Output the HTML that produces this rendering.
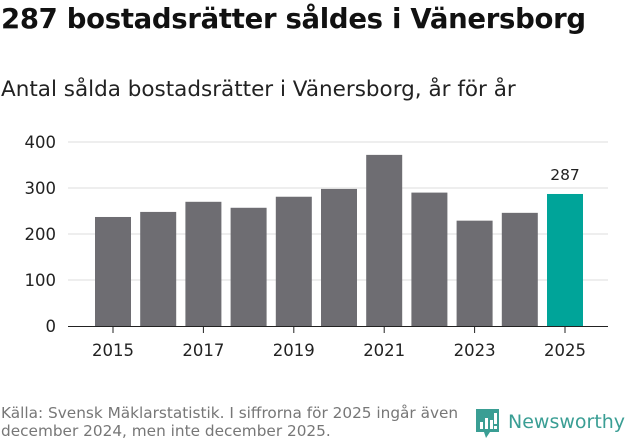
<!DOCTYPE html>
<html><head><meta charset="utf-8"><style>
body{margin:0;width:631px;height:439px;background:#fff;font-family:"DejaVu Sans","Liberation Sans",sans-serif;overflow:hidden;position:relative}
#title{position:absolute;left:1px;top:3px;font-size:27.5px;font-weight:bold;color:#111;margin:0;letter-spacing:-0.3px;white-space:nowrap}
#sub{position:absolute;left:1px;top:77px;font-size:21.5px;color:#222;white-space:nowrap}
#src{position:absolute;left:1px;top:404px;font-size:15.3px;color:#777;line-height:18px;white-space:nowrap}
#logo{position:absolute;left:474px;top:406px}
</style></head><body>
<h1 id="title">287 bostadsrätter såldes i Vänersborg</h1>
<div id="sub">Antal sålda bostadsrätter i Vänersborg, år för år</div>
<svg id="chart" width="631" height="439" style="position:absolute;left:0;top:0"></svg>
<div id="src">Källa: Svensk Mäklarstatistik. I siffrorna för 2025 ingår även<br>december 2024, men inte december 2025.</div>
<svg id="logo" width="157" height="33">
<path d="M2 3h23v23h-9l-4 6-2-6H2z" fill="#3a9e94"/>
<rect x="6" y="16" width="3" height="7" fill="#fff"/><rect x="11" y="12" width="3" height="11" fill="#fff"/><rect x="16" y="14" width="3" height="9" fill="#fff"/><rect x="20" y="7" width="3" height="11" fill="#fff"/><rect x="20" y="20" width="3" height="3" fill="#fff"/>
<text x="34" y="22" font-size="19" fill="#3a9e94" font-family="DejaVu Sans,sans-serif">Newsworthy</text>
</svg>
<script>
const years=[2015,2016,2017,2018,2019,2020,2021,2022,2023,2024,2025];
const values=[237,248,270,257,281,298,372,290,229,246,287];
const yTicks=[0,100,200,300,400];
const xLabels=[2015,2017,2019,2021,2023,2025];
const NS="http://www.w3.org/2000/svg";
const svg=document.getElementById('chart');
const y=v=>326-v*0.46;
const x=yr=>113+(yr-2015)*45.2;
function mk(t,a){const e=document.createElementNS(NS,t);for(const k in a)e.setAttribute(k,a[k]);svg.appendChild(e);return e;}
yTicks.forEach(t=>{
 if(t>0){const l=mk('line',{x1:68,x2:608,y1:y(t),y2:y(t),stroke:'#ddd','stroke-width':1});
 
 }
 const tx=mk('text',{x:56,y:y(t)+6,'text-anchor':'end','font-size':16.5,fill:'#222'});tx.textContent=t;
 
 
});
years.forEach((yr,i)=>{
 const r=mk('rect',{x:x(yr)-18,y:y(values[i]),width:36,height:326-y(values[i]),fill:yr===2025?'#00a499':'#6e6d72'});
 
 
});
const lab=mk('text',{x:x(2025),y:y(values[10])-14,'text-anchor':'middle','font-size':15.5,fill:'#222'});lab.textContent=values[10];


const ax=mk('line',{x1:68,x2:608,y1:326.5,y2:326.5,stroke:'#222','stroke-width':1});


xLabels.forEach(yr=>{
 const tk=mk('line',{x1:x(yr),x2:x(yr),y1:327,y2:333,stroke:'#222'});
 
 
 const t=mk('text',{x:x(yr),y:356,'text-anchor':'middle','font-size':16.5,fill:'#222'});t.textContent=yr;
 
 
});
</script>
</body></html>
